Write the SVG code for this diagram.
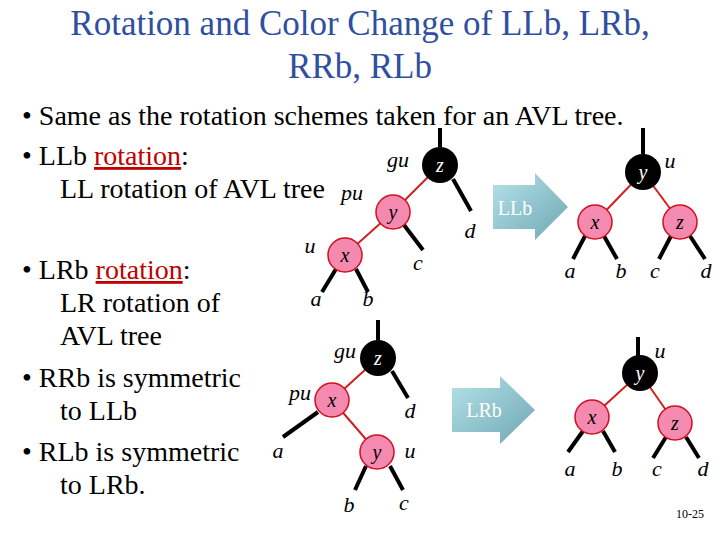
<svg xmlns="http://www.w3.org/2000/svg" width="720" height="540" viewBox="0 0 720 540">
<defs>
<linearGradient id="ag" x1="0" y1="0" x2="1" y2="1"><stop offset="0" stop-color="#b5e3ea"/><stop offset="1" stop-color="#6fa6b2"/></linearGradient>
<style>
.title{font-size:35px;fill:#2f4fa0;text-anchor:middle}
.b{font-size:28px;fill:#000}
.lab{font-style:italic;font-size:22px;fill:#000;text-anchor:middle}
.nl{font-style:italic;font-size:20px;text-anchor:middle}
.blk{fill:#000}
.red{fill:#f48ab0;stroke:#d01020;stroke-width:1.5}
.e{stroke:#000;stroke-width:4}
.re{stroke:#d02020;stroke-width:2}
.u{text-decoration:underline;fill:#c00000}
</style>
</defs>
<g font-family="'Liberation Serif', 'DejaVu Serif', serif">
<text class="title" x="360" y="35">Rotation and Color  Change of LLb, LRb,</text>
<text class="title" x="360" y="78">RRb, RLb</text>
<g id="bullets">
<text class="b" x="22" y="125">• Same as the rotation schemes taken for an AVL tree.</text>
<text class="b" x="22" y="165">• LLb <tspan class="u">rotation</tspan>:</text>
<text class="b" x="60" y="198">LL rotation of AVL tree</text>
<text class="b" x="22" y="279">• LRb <tspan class="u">rotation</tspan>:</text>
<text class="b" x="60" y="312">LR rotation of</text>
<text class="b" x="60" y="345">AVL tree</text>
<text class="b" x="22" y="387">• RRb is symmetric</text>
<text class="b" x="60" y="420">to LLb</text>
<text class="b" x="22" y="461">• RLb is symmetric</text>
<text class="b" x="60" y="494">to LRb.</text>
</g>
<g id="connectors">
<line class="e" x1="440" y1="147" x2="440" y2="128"/>
<line class="re" x1="440" y1="165" x2="393" y2="212"/>
<line class="re" x1="393" y1="212" x2="345" y2="255"/>
<line class="e" x1="453" y1="179" x2="471" y2="211"/>
<line class="e" x1="404" y1="225" x2="423" y2="250"/>
<line class="e" x1="336" y1="269" x2="322" y2="292"/>
<line class="e" x1="356" y1="269" x2="368" y2="292"/>
<line class="e" x1="643" y1="154" x2="643" y2="128"/>
<line class="re" x1="643" y1="172" x2="595" y2="222"/>
<line class="re" x1="643" y1="172" x2="680" y2="222"/>
<line class="e" x1="585" y1="236" x2="573" y2="259"/>
<line class="e" x1="604" y1="236" x2="617" y2="259"/>
<line class="e" x1="671" y1="236" x2="659" y2="259"/>
<line class="e" x1="690" y1="236" x2="705" y2="259"/>
<line class="e" x1="378" y1="340" x2="378" y2="320"/>
<line class="re" x1="378" y1="358" x2="332" y2="400"/>
<line class="re" x1="332" y1="400" x2="377" y2="452"/>
<line class="e" x1="392" y1="371" x2="408" y2="398"/>
<line class="e" x1="318" y1="412" x2="283" y2="437"/>
<line class="e" x1="366" y1="466" x2="355" y2="490"/>
<line class="e" x1="390" y1="466" x2="403" y2="490"/>
<line class="e" x1="638" y1="356" x2="638" y2="337"/>
<line class="re" x1="640" y1="373" x2="592" y2="417"/>
<line class="re" x1="640" y1="373" x2="675" y2="423"/>
<line class="e" x1="583" y1="431" x2="568" y2="452"/>
<line class="e" x1="603" y1="431" x2="615" y2="452"/>
<line class="e" x1="666" y1="437" x2="653" y2="458"/>
<line class="e" x1="686" y1="437" x2="699" y2="458"/>
</g>
<g id="arrow-llb"><polygon points="493,185 535,185 535,173 568,207 535,240 535,229 493,229" fill="url(#ag)"/><text x="515" y="215" font-size="20" fill="#fff" text-anchor="middle">LLb</text></g>
<g id="arrow-lrb"><polygon points="452,388 500,388 500,376 535,410 500,444 500,432 452,432" fill="url(#ag)"/><text x="484" y="417" font-size="20" fill="#fff" text-anchor="middle">LRb</text></g>
<g id="t1-z"><circle class="blk" cx="440" cy="165" r="18"/><text class="nl" x="440" y="172" fill="#fff">z</text></g>
<g id="t1-y"><circle class="red" cx="393" cy="212" r="17"/><text class="nl" x="393" y="219">y</text></g>
<g id="t1-x"><circle class="red" cx="345" cy="255" r="17"/><text class="nl" x="345" y="262">x</text></g>
<g id="t2-y"><circle class="blk" cx="643" cy="172" r="18"/><text class="nl" x="643" y="179" fill="#fff">y</text></g>
<g id="t2-x"><circle class="red" cx="595" cy="222" r="17"/><text class="nl" x="595" y="229">x</text></g>
<g id="t2-z"><circle class="red" cx="680" cy="222" r="17"/><text class="nl" x="680" y="229">z</text></g>
<g id="t3-z"><circle class="blk" cx="378" cy="358" r="18"/><text class="nl" x="378" y="365" fill="#fff">z</text></g>
<g id="t3-x"><circle class="red" cx="332" cy="400" r="17"/><text class="nl" x="332" y="407">x</text></g>
<g id="t3-y"><circle class="red" cx="377" cy="452" r="17"/><text class="nl" x="377" y="459">y</text></g>
<g id="t4-y"><circle class="blk" cx="640" cy="373" r="18"/><text class="nl" x="640" y="380" fill="#fff">y</text></g>
<g id="t4-x"><circle class="red" cx="592" cy="417" r="17"/><text class="nl" x="592" y="424">x</text></g>
<g id="t4-z"><circle class="red" cx="675" cy="423" r="17"/><text class="nl" x="675" y="430">z</text></g>
<g id="labels">
<text class="lab" x="398" y="167">gu</text><text class="lab" x="352" y="200">pu</text><text class="lab" x="310" y="253">u</text>
<text class="lab" x="470" y="238">d</text><text class="lab" x="418" y="270">c</text><text class="lab" x="316" y="306">a</text><text class="lab" x="368" y="306">b</text>
<text class="lab" x="670" y="168">u</text><text class="lab" x="570" y="278">a</text><text class="lab" x="621" y="278">b</text><text class="lab" x="655" y="278">c</text><text class="lab" x="706" y="278">d</text>
<text class="lab" x="345" y="358">gu</text><text class="lab" x="300" y="400">pu</text><text class="lab" x="410" y="418">d</text><text class="lab" x="278" y="458">a</text><text class="lab" x="410" y="458">u</text><text class="lab" x="349" y="512">b</text><text class="lab" x="404" y="510">c</text>
<text class="lab" x="660" y="358">u</text><text class="lab" x="570" y="476">a</text><text class="lab" x="617" y="476">b</text><text class="lab" x="657" y="476">c</text><text class="lab" x="703" y="476">d</text>
</g>
<text x="690" y="518" font-size="12" text-anchor="middle">10-25</text>
</g>
</svg>
